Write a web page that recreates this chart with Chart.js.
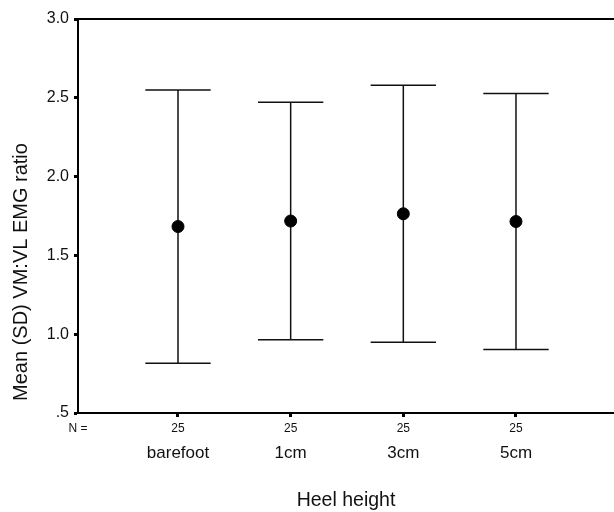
<!DOCTYPE html>
<html lang="en">
<head>
    <meta charset="UTF-8">
    <script src="https://cdn.jsdelivr.net/npm/chart.js"></script>
    <title>Heel height - VM:VL EMG ratio</title>
    <style>
        body { margin: 0; background: #fff; }
        canvas { display: block; }
    </style>
</head>
<body>
<canvas id="myChart" width="614" height="512"></canvas>
<script>
var categories = ['barefoot', '1cm', '3cm', '5cm'];
var means = [1.683, 1.718, 1.764, 1.715];
var sds = [0.867, 0.753, 0.815, 0.812];
var counts = [25, 25, 25, 25];
var yTicks = [0.5, 1.0, 1.5, 2.0, 2.5, 3.0];
var yTitle = 'Mean (SD) VM:VL EMG ratio';

var fontFamily = '"Liberation Sans", Arial, Helvetica, sans-serif';

// error bars (mean +/- SD) and the extra text round the axes
var errorBars = {
    id: 'errorBars',
    beforeDatasetsDraw: function (chart) {
        var ctx = chart.ctx;
        var x = chart.scales.x;
        var y = chart.scales.y;
        ctx.save();
        ctx.strokeStyle = '#111';
        ctx.lineWidth = 1.5;
        for (var i = 0; i < means.length; i++) {
            var px = x.getPixelForValue(i + 1);
            var left = x.getPixelForValue(i + 1 - 0.29);
            var right = x.getPixelForValue(i + 1 + 0.29);
            var top = y.getPixelForValue(means[i] + sds[i]);
            var bottom = y.getPixelForValue(means[i] - sds[i]);
            ctx.beginPath();
            ctx.moveTo(px, top);
            ctx.lineTo(px, bottom);
            ctx.moveTo(left, top);
            ctx.lineTo(right, top);
            ctx.moveTo(left, bottom);
            ctx.lineTo(right, bottom);
            ctx.stroke();
        }
        ctx.restore();
    },
    afterDraw: function (chart) {
        var ctx = chart.ctx;
        var area = chart.chartArea;
        var x = chart.scales.x;
        ctx.save();
        // top frame line
        ctx.strokeStyle = '#000';
        ctx.lineWidth = 2;
        ctx.beginPath();
        ctx.moveTo(area.left - 1, area.top);
        ctx.lineTo(area.right, area.top);
        ctx.stroke();
        // N = counts
        ctx.fillStyle = '#111';
        ctx.font = '12px ' + fontFamily;
        ctx.textAlign = 'center';
        ctx.textBaseline = 'middle';
        ctx.fillText('N =', area.left, 429);
        for (var i = 0; i < counts.length; i++) {
            ctx.fillText(String(counts[i]), x.getPixelForValue(i + 1), 429);
        }
        // y axis title, sits a bit below the middle like the original
        ctx.font = '20px ' + fontFamily;
        ctx.translate(21, 272);
        ctx.rotate(-Math.PI / 2);
        ctx.fillText(yTitle, 0, 0);
        ctx.restore();
    }
};

var ctx = document.getElementById('myChart').getContext('2d');
var myChart = new Chart(ctx, {
    type: 'scatter',
    data: {
        datasets: [{
            data: means.map(function (m, i) { return { x: i + 1, y: m }; }),
            backgroundColor: '#000',
            borderColor: '#000',
            pointRadius: 6,
            pointHoverRadius: 6,
        }],
    },
    options: {
        responsive: false,
        animation: false,
        layout: { autoPadding: false, padding: { top: 19, left: 0, right: 0, bottom: 0 } },
        plugins: {
            legend: { display: false },
            tooltip: { enabled: false },
        },
        scales: {
            x: {
                type: 'linear',
                min: 0.1124,
                max: 4.870,
                afterFit: function (scale) {
                    scale.height = 99;
                    scale.paddingLeft = 0;
                    scale.paddingRight = 0;
                },
                afterBuildTicks: function (scale) {
                    scale.ticks = categories.map(function (c, i) { return { value: i + 1 }; });
                },
                border: { display: true, color: '#000', width: 2 },
                grid: { drawOnChartArea: false, drawTicks: true, tickLength: 4, tickWidth: 3, tickColor: '#000' },
                ticks: {
                    color: '#111',
                    padding: 26,
                    maxRotation: 0,
                    autoSkip: false,
                    font: { family: fontFamily, size: 17 },
                    callback: function (value) { return categories[value - 1]; },
                },
                title: {
                    display: true,
                    text: 'Heel height',
                    color: '#111',
                    padding: { top: 0, bottom: 0 },
                    font: { family: fontFamily, size: 19.5 },
                },
            },
            y: {
                min: 0.5,
                max: 3.0,
                afterFit: function (scale) {
                    scale.width = 78;
                    scale.paddingTop = 0;
                    scale.paddingBottom = 0;
                },
                afterBuildTicks: function (scale) {
                    scale.ticks = yTicks.map(function (v) { return { value: v }; });
                },
                border: { display: true, color: '#000', width: 2 },
                grid: { drawOnChartArea: false, drawTicks: true, tickLength: 4, tickWidth: 3, tickColor: '#000' },
                ticks: {
                    color: '#111',
                    padding: 5,
                    font: { family: fontFamily, size: 16 },
                    callback: function (value) { return value === 0.5 ? '.5' : value.toFixed(1); },
                },
            },
        },
    },
    plugins: [errorBars],
});
</script>
</body>
</html>
